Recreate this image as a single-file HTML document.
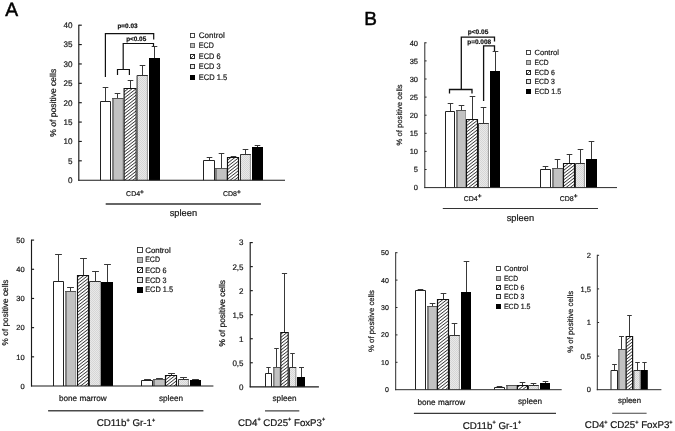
<!DOCTYPE html><html><head><meta charset="utf-8"><title>Figure</title>
<style>html,body{margin:0;padding:0;background:#fff}svg{display:block;filter:blur(0.35px)}text{font-family:'Liberation Sans', Arial, sans-serif;text-rendering:geometricPrecision;stroke:#151515;stroke-width:0.2px}</style></head><body>
<svg width="675" height="431" viewBox="0 0 675 431">
<defs>
<pattern id="hatch" width="2.5" height="2.5" patternUnits="userSpaceOnUse" patternTransform="rotate(-38)"><rect width="2.5" height="2.5" fill="#fff"/><line x1="0" y1="1.25" x2="2.5" y2="1.25" stroke="#222" stroke-width="0.75"/></pattern>
<pattern id="dots" width="2" height="2" patternUnits="userSpaceOnUse"><rect width="2" height="2" fill="#e9e9e9"/><rect width="1" height="1" fill="#d6d6d6"/><rect x="1" y="1" width="1" height="1" fill="#d6d6d6"/></pattern>
</defs>
<rect width="675" height="431" fill="#fff"/>
<text x="5.3" y="16" font-size="19.3" text-anchor="start" font-weight="normal" fill="#000" style="stroke:#000;stroke-width:0.5px">A</text>
<text x="364.2" y="24.7" font-size="19" text-anchor="start" font-weight="normal" fill="#000" style="stroke:#000;stroke-width:0.5px">B</text>
<line x1="105.5" y1="101.54" x2="105.5" y2="87.5" stroke="#383838" stroke-width="1" stroke-linecap="butt"/>
<line x1="102.7" y1="87.5" x2="108.3" y2="87.5" stroke="#383838" stroke-width="1" stroke-linecap="butt"/>
<path d="M100.5 180.2V101.5H110.5V180.2" fill="#fff" stroke="#222" stroke-width="1"/>
<line x1="117.5" y1="98.63" x2="117.5" y2="93.5" stroke="#383838" stroke-width="1" stroke-linecap="butt"/>
<line x1="114.7" y1="93.5" x2="120.3" y2="93.5" stroke="#383838" stroke-width="1" stroke-linecap="butt"/>
<rect x="112" y="98" width="11.4" height="82.2" fill="#c2c2c2"/>
<rect x="112" y="98" width="2" height="82.2" fill="#808080"/>
<rect x="122.6" y="98" width="0.8" height="82.2" fill="#909090"/>
<rect x="112" y="98" width="11.4" height="1" fill="#555"/>
<line x1="130.5" y1="88.75" x2="130.5" y2="80.5" stroke="#383838" stroke-width="1" stroke-linecap="butt"/>
<line x1="127.7" y1="80.5" x2="133.3" y2="80.5" stroke="#383838" stroke-width="1" stroke-linecap="butt"/>
<path d="M124.1 180.2V88.5H136.2V180.2" fill="url(#hatch)" stroke="#111" stroke-width="1.15"/>
<line x1="142.5" y1="75.77" x2="142.5" y2="65.5" stroke="#383838" stroke-width="1" stroke-linecap="butt"/>
<line x1="139.7" y1="65.5" x2="145.3" y2="65.5" stroke="#383838" stroke-width="1" stroke-linecap="butt"/>
<rect x="136.6" y="75" width="11.4" height="105.2" fill="url(#dots)"/>
<path d="M147.4 180.2V75.5" fill="none" stroke="#8a8a8a" stroke-width="0.9"/>
<path d="M137.1 180.2V75.5H147.8" fill="none" stroke="#333" stroke-width="1"/>
<line x1="154.5" y1="58.33" x2="154.5" y2="46.5" stroke="#383838" stroke-width="1" stroke-linecap="butt"/>
<line x1="151.7" y1="46.5" x2="157.3" y2="46.5" stroke="#383838" stroke-width="1" stroke-linecap="butt"/>
<rect x="149" y="58" width="11" height="122.2" fill="#000"/>
<line x1="209.5" y1="160.51" x2="209.5" y2="157.5" stroke="#383838" stroke-width="1" stroke-linecap="butt"/>
<line x1="206.7" y1="157.5" x2="212.3" y2="157.5" stroke="#383838" stroke-width="1" stroke-linecap="butt"/>
<path d="M203.5 180.2V160.5H214.5V180.2" fill="#fff" stroke="#222" stroke-width="1"/>
<line x1="221.5" y1="168.3" x2="221.5" y2="153.5" stroke="#383838" stroke-width="1" stroke-linecap="butt"/>
<line x1="218.7" y1="153.5" x2="224.3" y2="153.5" stroke="#383838" stroke-width="1" stroke-linecap="butt"/>
<rect x="215" y="168" width="12" height="12.2" fill="#c2c2c2"/>
<rect x="215" y="168" width="2" height="12.2" fill="#808080"/>
<rect x="226.2" y="168" width="0.8" height="12.2" fill="#909090"/>
<rect x="215" y="168" width="12" height="1" fill="#555"/>
<line x1="233.5" y1="157.18" x2="233.5" y2="156.5" stroke="#383838" stroke-width="1" stroke-linecap="butt"/>
<line x1="230.7" y1="156.5" x2="236.3" y2="156.5" stroke="#383838" stroke-width="1" stroke-linecap="butt"/>
<path d="M227.5 180.2V157.5H238.5V180.2" fill="url(#hatch)" stroke="#111" stroke-width="1.15"/>
<line x1="245.5" y1="154.51" x2="245.5" y2="149.5" stroke="#383838" stroke-width="1" stroke-linecap="butt"/>
<line x1="242.7" y1="149.5" x2="248.3" y2="149.5" stroke="#383838" stroke-width="1" stroke-linecap="butt"/>
<rect x="240" y="154" width="11" height="26.2" fill="url(#dots)"/>
<path d="M250.4 180.2V154.5" fill="none" stroke="#8a8a8a" stroke-width="0.9"/>
<path d="M240.5 180.2V154.5H250.8" fill="none" stroke="#333" stroke-width="1"/>
<line x1="257.5" y1="147.81" x2="257.5" y2="145.5" stroke="#383838" stroke-width="1" stroke-linecap="butt"/>
<line x1="254.7" y1="145.5" x2="260.3" y2="145.5" stroke="#383838" stroke-width="1" stroke-linecap="butt"/>
<rect x="252" y="147" width="11" height="33.2" fill="#000"/>
<line x1="78.8" y1="24.7" x2="78.8" y2="180.7" stroke="#1a1a1a" stroke-width="1.15" stroke-linecap="butt"/>
<line x1="78.3" y1="180.2" x2="285" y2="180.2" stroke="#1a1a1a" stroke-width="1.15" stroke-linecap="butt"/>
<text x="72.4" y="183.12" font-size="8.1" text-anchor="end" font-weight="normal" fill="#151515" >0</text>
<line x1="78.8" y1="160.82" x2="81.8" y2="160.82" stroke="#1a1a1a" stroke-width="1.15" stroke-linecap="butt"/>
<text x="72.4" y="163.74" font-size="8.1" text-anchor="end" font-weight="normal" fill="#151515" >5</text>
<line x1="78.8" y1="141.45" x2="81.8" y2="141.45" stroke="#1a1a1a" stroke-width="1.15" stroke-linecap="butt"/>
<text x="72.4" y="144.37" font-size="8.1" text-anchor="end" font-weight="normal" fill="#151515" >10</text>
<line x1="78.8" y1="122.07" x2="81.8" y2="122.07" stroke="#1a1a1a" stroke-width="1.15" stroke-linecap="butt"/>
<text x="72.4" y="124.99" font-size="8.1" text-anchor="end" font-weight="normal" fill="#151515" >15</text>
<line x1="78.8" y1="102.7" x2="81.8" y2="102.7" stroke="#1a1a1a" stroke-width="1.15" stroke-linecap="butt"/>
<text x="72.4" y="105.62" font-size="8.1" text-anchor="end" font-weight="normal" fill="#151515" >20</text>
<line x1="78.8" y1="83.32" x2="81.8" y2="83.32" stroke="#1a1a1a" stroke-width="1.15" stroke-linecap="butt"/>
<text x="72.4" y="86.24" font-size="8.1" text-anchor="end" font-weight="normal" fill="#151515" >25</text>
<line x1="78.8" y1="63.95" x2="81.8" y2="63.95" stroke="#1a1a1a" stroke-width="1.15" stroke-linecap="butt"/>
<text x="72.4" y="66.87" font-size="8.1" text-anchor="end" font-weight="normal" fill="#151515" >30</text>
<line x1="78.8" y1="44.57" x2="81.8" y2="44.57" stroke="#1a1a1a" stroke-width="1.15" stroke-linecap="butt"/>
<text x="72.4" y="47.49" font-size="8.1" text-anchor="end" font-weight="normal" fill="#151515" >35</text>
<line x1="78.8" y1="25.2" x2="81.8" y2="25.2" stroke="#1a1a1a" stroke-width="1.15" stroke-linecap="butt"/>
<text x="72.4" y="28.12" font-size="8.1" text-anchor="end" font-weight="normal" fill="#151515" >40</text>
<text transform="translate(55.8 102.8) rotate(-90)" font-size="8.55" text-anchor="middle" fill="#151515">% of positive cells</text>
<text x="135" y="196" font-size="7" text-anchor="middle" font-weight="normal" fill="#151515" ><tspan>CD4</tspan><tspan font-size="6.5" dy="-2.2" font-weight="bold">+</tspan></text>
<text x="231.8" y="196" font-size="7" text-anchor="middle" font-weight="normal" fill="#151515" ><tspan>CD8</tspan><tspan font-size="6.5" dy="-2.2" font-weight="bold">+</tspan></text>
<line x1="105.7" y1="204" x2="260.9" y2="204" stroke="#333" stroke-width="1.3" stroke-linecap="butt"/>
<text x="183.4" y="215.5" font-size="9.3" text-anchor="middle" font-weight="normal" fill="#151515" >spleen</text>
<rect x="190.5" y="33.5" width="4" height="4" fill="#fff" stroke="#333" stroke-width="0.9"/>
<text x="198.8" y="37.8" font-size="8.05" text-anchor="start" font-weight="normal" fill="#151515" textLength="25.95" lengthAdjust="spacingAndGlyphs">Control</text>
<rect x="190.5" y="43.5" width="4" height="4" fill="#bdbdbd" stroke="#666" stroke-width="1"/>
<text x="198.8" y="48.4" font-size="8.05" text-anchor="start" font-weight="normal" fill="#151515" textLength="15.05" lengthAdjust="spacingAndGlyphs">ECD</text>
<rect x="190.5" y="54.5" width="4" height="4" fill="#fff" stroke="#222" stroke-width="1"/>
<line x1="191" y1="58" x2="194" y2="55" stroke="#333" stroke-width="0.8" stroke-linecap="butt"/>
<text x="198.8" y="59.1" font-size="8.05" text-anchor="start" font-weight="normal" fill="#151515" textLength="21.74" lengthAdjust="spacingAndGlyphs">ECD 6</text>
<rect x="190.5" y="64.5" width="4" height="4" fill="#e6e6e6" stroke="#333" stroke-width="1"/>
<text x="198.8" y="69.2" font-size="8.05" text-anchor="start" font-weight="normal" fill="#151515" textLength="21.74" lengthAdjust="spacingAndGlyphs">ECD 3</text>
<rect x="190" y="75" width="5" height="5" fill="#000"/>
<text x="198.8" y="80" font-size="8.05" text-anchor="start" font-weight="normal" fill="#151515" textLength="28.42" lengthAdjust="spacingAndGlyphs">ECD 1.5</text>
<path d="M105.4 76.9V33.6H153.7V39.6" fill="none" stroke="#111" stroke-width="1.2"/>
<path d="M123.2 69.5V43.5H153.5V46.4" fill="none" stroke="#111" stroke-width="1.2"/>
<path d="M117.5 75.1V69.5H129.4V75.1" fill="none" stroke="#111" stroke-width="1.2"/>
<text x="127.5" y="28.3" font-size="6.4" text-anchor="middle" font-weight="bold" fill="#111" >p=0.03</text>
<text x="136.2" y="40.7" font-size="6.4" text-anchor="middle" font-weight="bold" fill="#111" >p&lt;0.05</text>
<line x1="450.5" y1="111.76" x2="450.5" y2="103.5" stroke="#383838" stroke-width="1" stroke-linecap="butt"/>
<line x1="447.7" y1="103.5" x2="453.3" y2="103.5" stroke="#383838" stroke-width="1" stroke-linecap="butt"/>
<path d="M445.5 187.6V111.5H454.5V187.6" fill="#fff" stroke="#222" stroke-width="1"/>
<line x1="461.5" y1="110.86" x2="461.5" y2="105.5" stroke="#383838" stroke-width="1" stroke-linecap="butt"/>
<line x1="458.7" y1="105.5" x2="464.3" y2="105.5" stroke="#383838" stroke-width="1" stroke-linecap="butt"/>
<rect x="456" y="110" width="10" height="77.6" fill="#c2c2c2"/>
<rect x="456" y="110" width="2" height="77.6" fill="#808080"/>
<rect x="465.2" y="110" width="0.8" height="77.6" fill="#909090"/>
<rect x="456" y="110" width="10" height="1" fill="#555"/>
<line x1="472.5" y1="119" x2="472.5" y2="96.5" stroke="#383838" stroke-width="1" stroke-linecap="butt"/>
<line x1="469.7" y1="96.5" x2="475.3" y2="96.5" stroke="#383838" stroke-width="1" stroke-linecap="butt"/>
<path d="M466.5 187.6V119.5H477.5V187.6" fill="url(#hatch)" stroke="#111" stroke-width="1.15"/>
<line x1="483.5" y1="123.16" x2="483.5" y2="107.5" stroke="#383838" stroke-width="1" stroke-linecap="butt"/>
<line x1="480.7" y1="107.5" x2="486.3" y2="107.5" stroke="#383838" stroke-width="1" stroke-linecap="butt"/>
<rect x="478" y="123" width="11" height="64.6" fill="url(#dots)"/>
<path d="M488.4 187.6V123.5" fill="none" stroke="#8a8a8a" stroke-width="0.9"/>
<path d="M478.5 187.6V123.5H488.8" fill="none" stroke="#333" stroke-width="1"/>
<line x1="495.5" y1="71.76" x2="495.5" y2="51.5" stroke="#383838" stroke-width="1" stroke-linecap="butt"/>
<line x1="492.7" y1="51.5" x2="498.3" y2="51.5" stroke="#383838" stroke-width="1" stroke-linecap="butt"/>
<rect x="490" y="71" width="10" height="116.6" fill="#000"/>
<line x1="545.5" y1="169.25" x2="545.5" y2="166.5" stroke="#383838" stroke-width="1" stroke-linecap="butt"/>
<line x1="542.7" y1="166.5" x2="548.3" y2="166.5" stroke="#383838" stroke-width="1" stroke-linecap="butt"/>
<path d="M540.5 187.6V169.5H550.5V187.6" fill="#fff" stroke="#222" stroke-width="1"/>
<line x1="557.5" y1="168.41" x2="557.5" y2="159.5" stroke="#383838" stroke-width="1" stroke-linecap="butt"/>
<line x1="554.7" y1="159.5" x2="560.3" y2="159.5" stroke="#383838" stroke-width="1" stroke-linecap="butt"/>
<rect x="552" y="168" width="11" height="19.6" fill="#c2c2c2"/>
<rect x="552" y="168" width="2" height="19.6" fill="#808080"/>
<rect x="562.2" y="168" width="0.8" height="19.6" fill="#909090"/>
<rect x="552" y="168" width="11" height="1" fill="#555"/>
<line x1="569.5" y1="163.53" x2="569.5" y2="154.5" stroke="#383838" stroke-width="1" stroke-linecap="butt"/>
<line x1="566.7" y1="154.5" x2="572.3" y2="154.5" stroke="#383838" stroke-width="1" stroke-linecap="butt"/>
<path d="M563.5 187.6V163.5H574.5V187.6" fill="url(#hatch)" stroke="#111" stroke-width="1.15"/>
<line x1="580.5" y1="163.53" x2="580.5" y2="149.5" stroke="#383838" stroke-width="1" stroke-linecap="butt"/>
<line x1="577.7" y1="149.5" x2="583.3" y2="149.5" stroke="#383838" stroke-width="1" stroke-linecap="butt"/>
<rect x="575" y="163" width="10" height="24.6" fill="url(#dots)"/>
<path d="M584.4 187.6V163.5" fill="none" stroke="#8a8a8a" stroke-width="0.9"/>
<path d="M575.5 187.6V163.5H584.8" fill="none" stroke="#333" stroke-width="1"/>
<line x1="591.5" y1="159.11" x2="591.5" y2="141.5" stroke="#383838" stroke-width="1" stroke-linecap="butt"/>
<line x1="588.7" y1="141.5" x2="594.3" y2="141.5" stroke="#383838" stroke-width="1" stroke-linecap="butt"/>
<rect x="586" y="159" width="11" height="28.6" fill="#000"/>
<line x1="424.8" y1="42.3" x2="424.8" y2="188.1" stroke="#2a2a2a" stroke-width="1" stroke-linecap="butt"/>
<line x1="424.3" y1="187.6" x2="617" y2="187.6" stroke="#2a2a2a" stroke-width="1" stroke-linecap="butt"/>
<text x="418" y="190.3" font-size="7.5" text-anchor="end" font-weight="normal" fill="#151515" >0</text>
<line x1="424.8" y1="169.5" x2="426.6" y2="169.5" stroke="#2a2a2a" stroke-width="1" stroke-linecap="butt"/>
<text x="418" y="172.2" font-size="7.5" text-anchor="end" font-weight="normal" fill="#151515" >5</text>
<line x1="424.8" y1="151.4" x2="426.6" y2="151.4" stroke="#2a2a2a" stroke-width="1" stroke-linecap="butt"/>
<text x="418" y="154.1" font-size="7.5" text-anchor="end" font-weight="normal" fill="#151515" >10</text>
<line x1="424.8" y1="133.3" x2="426.6" y2="133.3" stroke="#2a2a2a" stroke-width="1" stroke-linecap="butt"/>
<text x="418" y="136" font-size="7.5" text-anchor="end" font-weight="normal" fill="#151515" >15</text>
<line x1="424.8" y1="115.2" x2="426.6" y2="115.2" stroke="#2a2a2a" stroke-width="1" stroke-linecap="butt"/>
<text x="418" y="117.9" font-size="7.5" text-anchor="end" font-weight="normal" fill="#151515" >20</text>
<line x1="424.8" y1="97.1" x2="426.6" y2="97.1" stroke="#2a2a2a" stroke-width="1" stroke-linecap="butt"/>
<text x="418" y="99.8" font-size="7.5" text-anchor="end" font-weight="normal" fill="#151515" >25</text>
<line x1="424.8" y1="79" x2="426.6" y2="79" stroke="#2a2a2a" stroke-width="1" stroke-linecap="butt"/>
<text x="418" y="81.7" font-size="7.5" text-anchor="end" font-weight="normal" fill="#151515" >30</text>
<line x1="424.8" y1="60.9" x2="426.6" y2="60.9" stroke="#2a2a2a" stroke-width="1" stroke-linecap="butt"/>
<text x="418" y="63.6" font-size="7.5" text-anchor="end" font-weight="normal" fill="#151515" >35</text>
<line x1="424.8" y1="42.8" x2="426.6" y2="42.8" stroke="#2a2a2a" stroke-width="1" stroke-linecap="butt"/>
<text x="418" y="45.5" font-size="7.5" text-anchor="end" font-weight="normal" fill="#151515" >40</text>
<text transform="translate(402 114.9) rotate(-90)" font-size="7.7" text-anchor="middle" fill="#151515">% of positive cells</text>
<text x="472.6" y="200.5" font-size="7" text-anchor="middle" font-weight="normal" fill="#151515" ><tspan>CD4</tspan><tspan font-size="6.5" dy="-2.2" font-weight="bold">+</tspan></text>
<text x="568.6" y="200.5" font-size="7" text-anchor="middle" font-weight="normal" fill="#151515" ><tspan>CD8</tspan><tspan font-size="6.5" dy="-2.2" font-weight="bold">+</tspan></text>
<line x1="442.8" y1="208.5" x2="598" y2="208.5" stroke="#333" stroke-width="1.2" stroke-linecap="butt"/>
<text x="520.4" y="220.5" font-size="9.3" text-anchor="middle" font-weight="normal" fill="#151515" >spleen</text>
<rect x="526.5" y="50.5" width="4" height="4" fill="#fff" stroke="#333" stroke-width="0.9"/>
<text x="534.5" y="54.6" font-size="7.55" text-anchor="start" font-weight="normal" fill="#151515" textLength="24.33" lengthAdjust="spacingAndGlyphs">Control</text>
<rect x="526.5" y="60.5" width="4" height="4" fill="#bdbdbd" stroke="#666" stroke-width="1"/>
<text x="534.5" y="64.6" font-size="7.55" text-anchor="start" font-weight="normal" fill="#151515" textLength="14.12" lengthAdjust="spacingAndGlyphs">ECD</text>
<rect x="526.5" y="70.5" width="4" height="4" fill="#fff" stroke="#222" stroke-width="1"/>
<line x1="527" y1="74" x2="530" y2="71" stroke="#333" stroke-width="0.8" stroke-linecap="butt"/>
<text x="534.5" y="74.5" font-size="7.55" text-anchor="start" font-weight="normal" fill="#151515" textLength="20.39" lengthAdjust="spacingAndGlyphs">ECD 6</text>
<rect x="526.5" y="79.5" width="4" height="4" fill="#e6e6e6" stroke="#333" stroke-width="1"/>
<text x="534.5" y="84.1" font-size="7.55" text-anchor="start" font-weight="normal" fill="#151515" textLength="20.39" lengthAdjust="spacingAndGlyphs">ECD 3</text>
<rect x="526" y="89" width="5" height="5" fill="#000"/>
<text x="534.5" y="94.2" font-size="7.55" text-anchor="start" font-weight="normal" fill="#151515" textLength="26.65" lengthAdjust="spacingAndGlyphs">ECD 1.5</text>
<path d="M461.3 89.5V37.2H494.5V41.6" fill="none" stroke="#111" stroke-width="1.3"/>
<path d="M483.6 101.1V45.8H494.5V51" fill="none" stroke="#111" stroke-width="1.3"/>
<path d="M449.5 93.4V89.5H472V93.4" fill="none" stroke="#111" stroke-width="1.3"/>
<text x="478" y="34" font-size="6.55" text-anchor="middle" font-weight="bold" fill="#111" >p&lt;0.05</text>
<text x="479.2" y="43.5" font-size="6.5" text-anchor="middle" font-weight="bold" fill="#111" >p=0.008</text>
<line x1="58.5" y1="281.54" x2="58.5" y2="254.5" stroke="#383838" stroke-width="1" stroke-linecap="butt"/>
<line x1="55.1" y1="254.5" x2="61.9" y2="254.5" stroke="#383838" stroke-width="1" stroke-linecap="butt"/>
<path d="M53.5 386V281.5H63.5V386" fill="#fff" stroke="#222" stroke-width="1"/>
<line x1="70.5" y1="291.46" x2="70.5" y2="287.5" stroke="#383838" stroke-width="1" stroke-linecap="butt"/>
<line x1="67.1" y1="287.5" x2="73.9" y2="287.5" stroke="#383838" stroke-width="1" stroke-linecap="butt"/>
<rect x="65" y="291" width="11" height="95" fill="#c2c2c2"/>
<rect x="65" y="291" width="2" height="95" fill="#808080"/>
<rect x="75.2" y="291" width="0.8" height="95" fill="#909090"/>
<rect x="65" y="291" width="11" height="1" fill="#555"/>
<line x1="83.5" y1="275.55" x2="83.5" y2="258.5" stroke="#383838" stroke-width="1" stroke-linecap="butt"/>
<line x1="80.1" y1="258.5" x2="86.9" y2="258.5" stroke="#383838" stroke-width="1" stroke-linecap="butt"/>
<path d="M77.5 386V275.5H88.5V386" fill="url(#hatch)" stroke="#111" stroke-width="1.15"/>
<line x1="95.5" y1="281.24" x2="95.5" y2="271.5" stroke="#383838" stroke-width="1" stroke-linecap="butt"/>
<line x1="92.1" y1="271.5" x2="98.9" y2="271.5" stroke="#383838" stroke-width="1" stroke-linecap="butt"/>
<rect x="89" y="281" width="12" height="105" fill="url(#dots)"/>
<path d="M100.4 386V281.5" fill="none" stroke="#8a8a8a" stroke-width="0.9"/>
<path d="M89.5 386V281.5H100.8" fill="none" stroke="#333" stroke-width="1"/>
<line x1="107.5" y1="282.41" x2="107.5" y2="264.5" stroke="#383838" stroke-width="1" stroke-linecap="butt"/>
<line x1="104.1" y1="264.5" x2="110.9" y2="264.5" stroke="#383838" stroke-width="1" stroke-linecap="butt"/>
<rect x="101" y="282" width="12" height="104" fill="#000"/>
<line x1="147.5" y1="380.16" x2="147.5" y2="379.5" stroke="#383838" stroke-width="1" stroke-linecap="butt"/>
<line x1="144.1" y1="379.5" x2="150.9" y2="379.5" stroke="#383838" stroke-width="1" stroke-linecap="butt"/>
<path d="M141.5 386V380.5H152.5V386" fill="#fff" stroke="#222" stroke-width="1"/>
<line x1="159.5" y1="379.73" x2="159.5" y2="378.5" stroke="#383838" stroke-width="1" stroke-linecap="butt"/>
<line x1="156.1" y1="378.5" x2="162.9" y2="378.5" stroke="#383838" stroke-width="1" stroke-linecap="butt"/>
<rect x="153" y="379" width="12" height="7" fill="#c2c2c2"/>
<rect x="153" y="379" width="2" height="7" fill="#808080"/>
<rect x="164.2" y="379" width="0.8" height="7" fill="#909090"/>
<rect x="153" y="379" width="12" height="1" fill="#555"/>
<line x1="171.5" y1="375.79" x2="171.5" y2="373.5" stroke="#383838" stroke-width="1" stroke-linecap="butt"/>
<line x1="168.1" y1="373.5" x2="174.9" y2="373.5" stroke="#383838" stroke-width="1" stroke-linecap="butt"/>
<path d="M165.5 386V375.5H176.5V386" fill="url(#hatch)" stroke="#111" stroke-width="1.15"/>
<line x1="183.5" y1="379.29" x2="183.5" y2="377.5" stroke="#383838" stroke-width="1" stroke-linecap="butt"/>
<line x1="180.1" y1="377.5" x2="186.9" y2="377.5" stroke="#383838" stroke-width="1" stroke-linecap="butt"/>
<rect x="178" y="379" width="11" height="7" fill="url(#dots)"/>
<path d="M188.4 386V379.5" fill="none" stroke="#8a8a8a" stroke-width="0.9"/>
<path d="M178.5 386V379.5H188.8" fill="none" stroke="#333" stroke-width="1"/>
<line x1="195.5" y1="380.46" x2="195.5" y2="379.5" stroke="#383838" stroke-width="1" stroke-linecap="butt"/>
<line x1="192.1" y1="379.5" x2="198.9" y2="379.5" stroke="#383838" stroke-width="1" stroke-linecap="butt"/>
<rect x="190" y="380" width="11" height="6" fill="#000"/>
<line x1="31.5" y1="239.6" x2="31.5" y2="386.5" stroke="#1a1a1a" stroke-width="1.15" stroke-linecap="butt"/>
<line x1="31" y1="386" x2="213.4" y2="386" stroke="#1a1a1a" stroke-width="1.15" stroke-linecap="butt"/>
<text x="24.6" y="388.7" font-size="7.5" text-anchor="end" font-weight="normal" fill="#151515" >0</text>
<line x1="31.5" y1="356.82" x2="34.1" y2="356.82" stroke="#1a1a1a" stroke-width="1.15" stroke-linecap="butt"/>
<text x="24.6" y="359.52" font-size="7.5" text-anchor="end" font-weight="normal" fill="#151515" >10</text>
<line x1="31.5" y1="327.64" x2="34.1" y2="327.64" stroke="#1a1a1a" stroke-width="1.15" stroke-linecap="butt"/>
<text x="24.6" y="330.34" font-size="7.5" text-anchor="end" font-weight="normal" fill="#151515" >20</text>
<line x1="31.5" y1="298.46" x2="34.1" y2="298.46" stroke="#1a1a1a" stroke-width="1.15" stroke-linecap="butt"/>
<text x="24.6" y="301.16" font-size="7.5" text-anchor="end" font-weight="normal" fill="#151515" >30</text>
<line x1="31.5" y1="269.28" x2="34.1" y2="269.28" stroke="#1a1a1a" stroke-width="1.15" stroke-linecap="butt"/>
<text x="24.6" y="271.98" font-size="7.5" text-anchor="end" font-weight="normal" fill="#151515" >40</text>
<line x1="31.5" y1="240.1" x2="34.1" y2="240.1" stroke="#1a1a1a" stroke-width="1.15" stroke-linecap="butt"/>
<text x="24.6" y="242.8" font-size="7.5" text-anchor="end" font-weight="normal" fill="#151515" >50</text>
<text transform="translate(7.9 312.5) rotate(-90)" font-size="8.3" text-anchor="middle" fill="#151515">% of positive cells</text>
<text x="82.8" y="400.5" font-size="8.2" text-anchor="middle" font-weight="normal" fill="#151515" >bone marrow</text>
<text x="171" y="401" font-size="8.2" text-anchor="middle" font-weight="normal" fill="#151515" >spleen</text>
<line x1="48.1" y1="410.8" x2="203.4" y2="410.8" stroke="#4a4a4a" stroke-width="1.5" stroke-linecap="butt"/>
<text x="126" y="426.3" font-size="9.8" text-anchor="middle" font-weight="normal" fill="#151515" ><tspan>CD11b</tspan><tspan font-size="5.5" dy="-4.6" font-weight="bold">+</tspan><tspan dy="4.6"> Gr-1</tspan><tspan font-size="5.5" dy="-4.6" font-weight="bold">+</tspan></text>
<rect x="137.5" y="247.5" width="5" height="5" fill="#fff" stroke="#333" stroke-width="0.9"/>
<text x="145.2" y="252.7" font-size="7.9" text-anchor="start" font-weight="normal" fill="#151515" textLength="25.46" lengthAdjust="spacingAndGlyphs">Control</text>
<rect x="137.5" y="257.5" width="5" height="5" fill="#bdbdbd" stroke="#666" stroke-width="1"/>
<text x="145.2" y="262.4" font-size="7.9" text-anchor="start" font-weight="normal" fill="#151515" textLength="14.77" lengthAdjust="spacingAndGlyphs">ECD</text>
<rect x="137.5" y="267.5" width="5" height="5" fill="#fff" stroke="#222" stroke-width="1"/>
<line x1="138" y1="272" x2="142" y2="268" stroke="#333" stroke-width="0.8" stroke-linecap="butt"/>
<text x="145.2" y="272.6" font-size="7.9" text-anchor="start" font-weight="normal" fill="#151515" textLength="21.33" lengthAdjust="spacingAndGlyphs">ECD 6</text>
<rect x="137.5" y="277.5" width="5" height="5" fill="#e6e6e6" stroke="#333" stroke-width="1"/>
<text x="145.2" y="282.6" font-size="7.9" text-anchor="start" font-weight="normal" fill="#151515" textLength="21.33" lengthAdjust="spacingAndGlyphs">ECD 3</text>
<rect x="137" y="287" width="6" height="6" fill="#000"/>
<text x="145.2" y="292.4" font-size="7.9" text-anchor="start" font-weight="normal" fill="#151515" textLength="27.89" lengthAdjust="spacingAndGlyphs">ECD 1.5</text>
<line x1="268.5" y1="373.1" x2="268.5" y2="367.5" stroke="#383838" stroke-width="1" stroke-linecap="butt"/>
<line x1="266.33" y1="367.5" x2="270.67" y2="367.5" stroke="#383838" stroke-width="1" stroke-linecap="butt"/>
<path d="M265.5 386.8V373.5H271.5V386.8" fill="#fff" stroke="#222" stroke-width="1"/>
<line x1="276.5" y1="367.57" x2="276.5" y2="348.5" stroke="#383838" stroke-width="1" stroke-linecap="butt"/>
<line x1="274.21" y1="348.5" x2="278.79" y2="348.5" stroke="#383838" stroke-width="1" stroke-linecap="butt"/>
<rect x="273" y="367" width="7.4" height="19.8" fill="#c2c2c2"/>
<rect x="273" y="367" width="1.63" height="19.8" fill="#808080"/>
<rect x="279.6" y="367" width="0.8" height="19.8" fill="#909090"/>
<rect x="273" y="367" width="7.4" height="1" fill="#555"/>
<line x1="284.5" y1="332" x2="284.5" y2="273.5" stroke="#383838" stroke-width="1" stroke-linecap="butt"/>
<line x1="281.9" y1="273.5" x2="287.1" y2="273.5" stroke="#383838" stroke-width="1" stroke-linecap="butt"/>
<path d="M280.8 386.8V332.5H288.2V386.8" fill="url(#hatch)" stroke="#111" stroke-width="1.15"/>
<line x1="292.5" y1="367.57" x2="292.5" y2="353.5" stroke="#383838" stroke-width="1" stroke-linecap="butt"/>
<line x1="290.21" y1="353.5" x2="294.79" y2="353.5" stroke="#383838" stroke-width="1" stroke-linecap="butt"/>
<rect x="289" y="367" width="7.4" height="19.8" fill="url(#dots)"/>
<path d="M295.8 386.8V367.5" fill="none" stroke="#8a8a8a" stroke-width="0.9"/>
<path d="M289.5 386.8V367.5H296.2" fill="none" stroke="#333" stroke-width="1"/>
<line x1="301.5" y1="377.43" x2="301.5" y2="367.5" stroke="#383838" stroke-width="1" stroke-linecap="butt"/>
<line x1="299.02" y1="367.5" x2="303.98" y2="367.5" stroke="#383838" stroke-width="1" stroke-linecap="butt"/>
<rect x="297" y="377" width="8" height="9.8" fill="#000"/>
<line x1="250.2" y1="242.09" x2="250.2" y2="387.3" stroke="#1a1a1a" stroke-width="1.15" stroke-linecap="butt"/>
<line x1="249.7" y1="386.8" x2="318.9" y2="386.8" stroke="#1a1a1a" stroke-width="1.15" stroke-linecap="butt"/>
<text x="243.5" y="389.68" font-size="8.0" text-anchor="end" font-weight="normal" fill="#151515" >0</text>
<line x1="250.2" y1="362.76" x2="252.8" y2="362.76" stroke="#1a1a1a" stroke-width="1.15" stroke-linecap="butt"/>
<text x="243.5" y="365.64" font-size="8.0" text-anchor="end" font-weight="normal" fill="#151515" >0,5</text>
<line x1="250.2" y1="338.73" x2="252.8" y2="338.73" stroke="#1a1a1a" stroke-width="1.15" stroke-linecap="butt"/>
<text x="243.5" y="341.61" font-size="8.0" text-anchor="end" font-weight="normal" fill="#151515" >1</text>
<line x1="250.2" y1="314.69" x2="252.8" y2="314.69" stroke="#1a1a1a" stroke-width="1.15" stroke-linecap="butt"/>
<text x="243.5" y="317.57" font-size="8.0" text-anchor="end" font-weight="normal" fill="#151515" >1,5</text>
<line x1="250.2" y1="290.66" x2="252.8" y2="290.66" stroke="#1a1a1a" stroke-width="1.15" stroke-linecap="butt"/>
<text x="243.5" y="293.54" font-size="8.0" text-anchor="end" font-weight="normal" fill="#151515" >2</text>
<line x1="250.2" y1="266.62" x2="252.8" y2="266.62" stroke="#1a1a1a" stroke-width="1.15" stroke-linecap="butt"/>
<text x="243.5" y="269.5" font-size="8.0" text-anchor="end" font-weight="normal" fill="#151515" >2,5</text>
<line x1="250.2" y1="242.59" x2="252.8" y2="242.59" stroke="#1a1a1a" stroke-width="1.15" stroke-linecap="butt"/>
<text x="243.5" y="245.47" font-size="8.0" text-anchor="end" font-weight="normal" fill="#151515" >3</text>
<text transform="translate(225.2 313.3) rotate(-90)" font-size="8.4" text-anchor="middle" fill="#151515">% of positive cells</text>
<text x="284.6" y="401.1" font-size="8.2" text-anchor="middle" font-weight="normal" fill="#151515" >spleen</text>
<line x1="265" y1="410.9" x2="299.3" y2="410.9" stroke="#444" stroke-width="1.1" stroke-linecap="butt"/>
<text x="281.6" y="425.5" font-size="9.7" text-anchor="middle" font-weight="normal" fill="#151515" ><tspan>CD4</tspan><tspan font-size="5.5" dy="-4.6" font-weight="bold">+</tspan><tspan dy="4.6"> CD25</tspan><tspan font-size="5.5" dy="-4.6" font-weight="bold">+</tspan><tspan dy="4.6"> FoxP3</tspan><tspan font-size="5.5" dy="-4.6" font-weight="bold">+</tspan></text>
<line x1="420.5" y1="290.51" x2="420.5" y2="289.5" stroke="#383838" stroke-width="1" stroke-linecap="butt"/>
<line x1="417.7" y1="289.5" x2="423.3" y2="289.5" stroke="#383838" stroke-width="1" stroke-linecap="butt"/>
<path d="M415.5 389.7V290.5H425.5V389.7" fill="#fff" stroke="#222" stroke-width="1"/>
<line x1="432.5" y1="306.13" x2="432.5" y2="303.5" stroke="#383838" stroke-width="1" stroke-linecap="butt"/>
<line x1="429.7" y1="303.5" x2="435.3" y2="303.5" stroke="#383838" stroke-width="1" stroke-linecap="butt"/>
<rect x="427" y="306" width="10" height="83.7" fill="#c2c2c2"/>
<rect x="427" y="306" width="2" height="83.7" fill="#808080"/>
<rect x="436.2" y="306" width="0.8" height="83.7" fill="#909090"/>
<rect x="427" y="306" width="10" height="1" fill="#555"/>
<line x1="443.5" y1="299.55" x2="443.5" y2="293.5" stroke="#383838" stroke-width="1" stroke-linecap="butt"/>
<line x1="440.7" y1="293.5" x2="446.3" y2="293.5" stroke="#383838" stroke-width="1" stroke-linecap="butt"/>
<path d="M437.5 389.7V299.5H448.5V389.7" fill="url(#hatch)" stroke="#111" stroke-width="1.15"/>
<line x1="454.5" y1="335.45" x2="454.5" y2="323.5" stroke="#383838" stroke-width="1" stroke-linecap="butt"/>
<line x1="451.7" y1="323.5" x2="457.3" y2="323.5" stroke="#383838" stroke-width="1" stroke-linecap="butt"/>
<rect x="449" y="335" width="11" height="54.7" fill="url(#dots)"/>
<path d="M459.4 389.7V335.5" fill="none" stroke="#8a8a8a" stroke-width="0.9"/>
<path d="M449.5 389.7V335.5H459.8" fill="none" stroke="#333" stroke-width="1"/>
<line x1="466.5" y1="292.43" x2="466.5" y2="261.5" stroke="#383838" stroke-width="1" stroke-linecap="butt"/>
<line x1="463.7" y1="261.5" x2="469.3" y2="261.5" stroke="#383838" stroke-width="1" stroke-linecap="butt"/>
<rect x="461" y="292" width="10" height="97.7" fill="#000"/>
<line x1="499.5" y1="387.23" x2="499.5" y2="386.5" stroke="#383838" stroke-width="1" stroke-linecap="butt"/>
<line x1="496.7" y1="386.5" x2="502.3" y2="386.5" stroke="#383838" stroke-width="1" stroke-linecap="butt"/>
<path d="M494.5 389.7V387.5H504.5V389.7" fill="#fff" stroke="#222" stroke-width="1"/>
<line x1="511.5" y1="385.86" x2="511.5" y2="385.5" stroke="#383838" stroke-width="1" stroke-linecap="butt"/>
<line x1="508.7" y1="385.5" x2="514.3" y2="385.5" stroke="#383838" stroke-width="1" stroke-linecap="butt"/>
<rect x="506" y="385" width="11" height="4.7" fill="#c2c2c2"/>
<rect x="506" y="385" width="2" height="4.7" fill="#808080"/>
<rect x="516.2" y="385" width="0.8" height="4.7" fill="#909090"/>
<rect x="506" y="385" width="11" height="1" fill="#555"/>
<line x1="522.5" y1="385.59" x2="522.5" y2="382.5" stroke="#383838" stroke-width="1" stroke-linecap="butt"/>
<line x1="519.7" y1="382.5" x2="525.3" y2="382.5" stroke="#383838" stroke-width="1" stroke-linecap="butt"/>
<path d="M517.5 389.7V385.5H527.5V389.7" fill="url(#hatch)" stroke="#111" stroke-width="1.15"/>
<line x1="533.5" y1="385.32" x2="533.5" y2="383.5" stroke="#383838" stroke-width="1" stroke-linecap="butt"/>
<line x1="530.7" y1="383.5" x2="536.3" y2="383.5" stroke="#383838" stroke-width="1" stroke-linecap="butt"/>
<rect x="528" y="385" width="11" height="4.7" fill="url(#dots)"/>
<path d="M538.4 389.7V385.5" fill="none" stroke="#8a8a8a" stroke-width="0.9"/>
<path d="M528.5 389.7V385.5H538.8" fill="none" stroke="#333" stroke-width="1"/>
<line x1="545.5" y1="383.67" x2="545.5" y2="381.5" stroke="#383838" stroke-width="1" stroke-linecap="butt"/>
<line x1="542.7" y1="381.5" x2="548.3" y2="381.5" stroke="#383838" stroke-width="1" stroke-linecap="butt"/>
<rect x="540" y="383" width="10" height="6.7" fill="#000"/>
<line x1="395.7" y1="252.2" x2="395.7" y2="390.2" stroke="#2a2a2a" stroke-width="1" stroke-linecap="butt"/>
<line x1="395.2" y1="389.7" x2="561.7" y2="389.7" stroke="#2a2a2a" stroke-width="1" stroke-linecap="butt"/>
<text x="388.9" y="392.22" font-size="7.0" text-anchor="end" font-weight="normal" fill="#151515" >0</text>
<line x1="395.7" y1="362.3" x2="397.5" y2="362.3" stroke="#2a2a2a" stroke-width="1" stroke-linecap="butt"/>
<text x="388.9" y="364.82" font-size="7.0" text-anchor="end" font-weight="normal" fill="#151515" >10</text>
<line x1="395.7" y1="334.9" x2="397.5" y2="334.9" stroke="#2a2a2a" stroke-width="1" stroke-linecap="butt"/>
<text x="388.9" y="337.42" font-size="7.0" text-anchor="end" font-weight="normal" fill="#151515" >20</text>
<line x1="395.7" y1="307.5" x2="397.5" y2="307.5" stroke="#2a2a2a" stroke-width="1" stroke-linecap="butt"/>
<text x="388.9" y="310.02" font-size="7.0" text-anchor="end" font-weight="normal" fill="#151515" >30</text>
<line x1="395.7" y1="280.1" x2="397.5" y2="280.1" stroke="#2a2a2a" stroke-width="1" stroke-linecap="butt"/>
<text x="388.9" y="282.62" font-size="7.0" text-anchor="end" font-weight="normal" fill="#151515" >40</text>
<line x1="395.7" y1="252.7" x2="397.5" y2="252.7" stroke="#2a2a2a" stroke-width="1" stroke-linecap="butt"/>
<text x="388.9" y="255.22" font-size="7.0" text-anchor="end" font-weight="normal" fill="#151515" >50</text>
<text transform="translate(374.1 321) rotate(-90)" font-size="7.8" text-anchor="middle" fill="#151515">% of positive cells</text>
<text x="441.3" y="404.6" font-size="8.2" text-anchor="middle" font-weight="normal" fill="#151515" >bone marrow</text>
<text x="530.1" y="404.3" font-size="8.2" text-anchor="middle" font-weight="normal" fill="#151515" >spleen</text>
<line x1="413.9" y1="413.3" x2="556" y2="413.3" stroke="#3a3a3a" stroke-width="1.3" stroke-linecap="butt"/>
<text x="492" y="428.5" font-size="9.8" text-anchor="middle" font-weight="normal" fill="#151515" ><tspan>CD11b</tspan><tspan font-size="5.5" dy="-4.6" font-weight="bold">+</tspan><tspan dy="4.6"> Gr-1</tspan><tspan font-size="5.5" dy="-4.6" font-weight="bold">+</tspan></text>
<rect x="496.5" y="266.5" width="4" height="4" fill="#fff" stroke="#333" stroke-width="0.9"/>
<text x="503.9" y="271" font-size="7.55" text-anchor="start" font-weight="normal" fill="#151515" textLength="24.33" lengthAdjust="spacingAndGlyphs">Control</text>
<rect x="496.5" y="276.5" width="4" height="4" fill="#bdbdbd" stroke="#666" stroke-width="1"/>
<text x="503.9" y="280.7" font-size="7.55" text-anchor="start" font-weight="normal" fill="#151515" textLength="14.12" lengthAdjust="spacingAndGlyphs">ECD</text>
<rect x="496.5" y="285.5" width="4" height="4" fill="#fff" stroke="#222" stroke-width="1"/>
<line x1="497" y1="289" x2="500" y2="286" stroke="#333" stroke-width="0.8" stroke-linecap="butt"/>
<text x="503.9" y="289.8" font-size="7.55" text-anchor="start" font-weight="normal" fill="#151515" textLength="20.39" lengthAdjust="spacingAndGlyphs">ECD 6</text>
<rect x="496.5" y="294.5" width="4" height="4" fill="#e6e6e6" stroke="#333" stroke-width="1"/>
<text x="503.9" y="299.2" font-size="7.55" text-anchor="start" font-weight="normal" fill="#151515" textLength="20.39" lengthAdjust="spacingAndGlyphs">ECD 3</text>
<rect x="496" y="304" width="5" height="5" fill="#000"/>
<text x="503.9" y="308.7" font-size="7.55" text-anchor="start" font-weight="normal" fill="#151515" textLength="26.65" lengthAdjust="spacingAndGlyphs">ECD 1.5</text>
<line x1="614.5" y1="370.01" x2="614.5" y2="364.5" stroke="#383838" stroke-width="1" stroke-linecap="butt"/>
<line x1="612.17" y1="364.5" x2="616.83" y2="364.5" stroke="#383838" stroke-width="1" stroke-linecap="butt"/>
<path d="M611 389.7V370.5H617.5V389.7" fill="#fff" stroke="#222" stroke-width="1"/>
<line x1="621.5" y1="349.78" x2="621.5" y2="336.5" stroke="#383838" stroke-width="1" stroke-linecap="butt"/>
<line x1="619.08" y1="336.5" x2="623.92" y2="336.5" stroke="#383838" stroke-width="1" stroke-linecap="butt"/>
<rect x="618" y="349" width="7.8" height="40.7" fill="#c2c2c2"/>
<rect x="618" y="349" width="1.72" height="40.7" fill="#808080"/>
<rect x="625" y="349" width="0.8" height="40.7" fill="#909090"/>
<rect x="618" y="349" width="7.8" height="1" fill="#555"/>
<line x1="629.5" y1="336.61" x2="629.5" y2="315.5" stroke="#383838" stroke-width="1" stroke-linecap="butt"/>
<line x1="627.21" y1="315.5" x2="631.79" y2="315.5" stroke="#383838" stroke-width="1" stroke-linecap="butt"/>
<path d="M626.2 389.7V336.5H632.6V389.7" fill="url(#hatch)" stroke="#111" stroke-width="1.15"/>
<line x1="637.5" y1="370.01" x2="637.5" y2="362.5" stroke="#383838" stroke-width="1" stroke-linecap="butt"/>
<line x1="635.21" y1="362.5" x2="639.79" y2="362.5" stroke="#383838" stroke-width="1" stroke-linecap="butt"/>
<rect x="633.3" y="370" width="7.4" height="19.7" fill="url(#dots)"/>
<path d="M640.1 389.7V370.5" fill="none" stroke="#8a8a8a" stroke-width="0.9"/>
<path d="M633.8 389.7V370.5H640.5" fill="none" stroke="#333" stroke-width="1"/>
<line x1="644.5" y1="370.01" x2="644.5" y2="362.5" stroke="#383838" stroke-width="1" stroke-linecap="butt"/>
<line x1="642.3" y1="362.5" x2="646.7" y2="362.5" stroke="#383838" stroke-width="1" stroke-linecap="butt"/>
<rect x="640.7" y="370" width="7.1" height="19.7" fill="#000"/>
<line x1="597.3" y1="254.8" x2="597.3" y2="390.2" stroke="#2a2a2a" stroke-width="1" stroke-linecap="butt"/>
<line x1="596.8" y1="389.7" x2="661.4" y2="389.7" stroke="#2a2a2a" stroke-width="1" stroke-linecap="butt"/>
<text x="591" y="392.4" font-size="7.5" text-anchor="end" font-weight="normal" fill="#151515" >0</text>
<line x1="597.3" y1="356.1" x2="599.1" y2="356.1" stroke="#2a2a2a" stroke-width="1" stroke-linecap="butt"/>
<text x="591" y="358.8" font-size="7.5" text-anchor="end" font-weight="normal" fill="#151515" >0,5</text>
<line x1="597.3" y1="322.5" x2="599.1" y2="322.5" stroke="#2a2a2a" stroke-width="1" stroke-linecap="butt"/>
<text x="591" y="325.2" font-size="7.5" text-anchor="end" font-weight="normal" fill="#151515" >1</text>
<line x1="597.3" y1="288.9" x2="599.1" y2="288.9" stroke="#2a2a2a" stroke-width="1" stroke-linecap="butt"/>
<text x="591" y="291.6" font-size="7.5" text-anchor="end" font-weight="normal" fill="#151515" >1,5</text>
<line x1="597.3" y1="255.3" x2="599.1" y2="255.3" stroke="#2a2a2a" stroke-width="1" stroke-linecap="butt"/>
<text x="591" y="258" font-size="7.5" text-anchor="end" font-weight="normal" fill="#151515" >2</text>
<text transform="translate(572.5 321.8) rotate(-90)" font-size="7.8" text-anchor="middle" fill="#151515">% of positive cells</text>
<text x="629.5" y="403.4" font-size="7.8" text-anchor="middle" font-weight="normal" fill="#151515" >spleen</text>
<line x1="612.2" y1="413.2" x2="646.6" y2="413.2" stroke="#444" stroke-width="1.1" stroke-linecap="butt"/>
<text x="628.7" y="428.3" font-size="9.75" text-anchor="middle" font-weight="normal" fill="#151515" ><tspan>CD4</tspan><tspan font-size="5.5" dy="-4.6" font-weight="bold">+</tspan><tspan dy="4.6"> CD25</tspan><tspan font-size="5.5" dy="-4.6" font-weight="bold">+</tspan><tspan dy="4.6"> FoxP3</tspan><tspan font-size="5.5" dy="-4.6" font-weight="bold">+</tspan></text>
</svg></body></html>
